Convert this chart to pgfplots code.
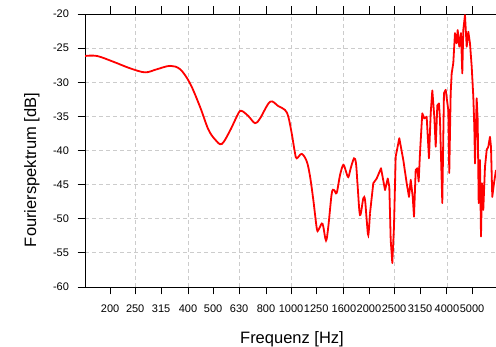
\documentclass[border=0pt]{standalone}
\usepackage{pgfplots}
\pgfplotsset{compat=1.18}
\usepackage{fontspec}
\setmainfont{Liberation Sans}
\begin{document}
\begin{tikzpicture}
\begin{axis}[
  scale only axis, width=411pt, height=273pt,
  xmode=log, xmin=160, xmax=6190, ymin=-60, ymax=-20,
  axis x line*=box, axis y line*=left,
  axis line style={line width=0.9pt, black},
  xtick={200,250,315,400,500,630,800,1000,1250,1600,2000,2500,3150,4000,5000},
  xticklabels={200,250,315,400,500,630,800,1000,1250,1600,2000,2500,3150,4000,5000},
  xminorticks=false,
  ytick={-60,-55,-50,-45,-40,-35,-30,-25,-20},
  yticklabels={-60,-55,-50,-45,-40,-35,-30,-25,-20},
  tick align=outside, major tick length=7.5pt,
  tick style={line width=0.9pt, black},
  ymajorgrids,
  major grid style={line width=0.8pt, color=black!20, dash pattern=on 4pt off 3pt},
  extra x ticks={250,400,630,1000,1600,2500,4000},
  extra x tick labels={},
  extra x tick style={grid=major, major tick length=0pt},
  ticklabel style={font=\fontsize{11}{12}\selectfont},
  xticklabel style={yshift=-7pt},
  yticklabel style={xshift=-5pt},
  xlabel={Frequenz [Hz]}, ylabel={Fourierspektrum [dB]},
  every axis x label/.style={at={(axis description cs:0.5036,-0.207)}, anchor=base, font=\fontsize{16.5}{18}\selectfont},
  every axis y label/.style={at={(axis description cs:-0.1192,0.4286)}, rotate=90, anchor=base, font=\fontsize{16.5}{18}\selectfont},
]
\addplot[red, line width=1.8pt, smooth, tension=0.55] coordinates {
(160,-26.15) (178,-26.15) (206,-27.0) (239,-27.96) (273,-28.55) (303,-28.1)
(341,-27.6) (373,-28.1) (407,-30.15) (445,-33.6) (479,-36.9) (509,-38.4)
(540,-39.05) (581,-37.1) (626,-34.55) (645,-34.2) (684,-34.95) (726,-36.0)
(759,-35.3) (830,-32.85) (893,-33.5) (948,-34.07) (976,-35.05) (1006,-37.5)
(1036,-40.4) (1052,-41.15) (1100,-40.5) (1150,-41.6) (1184,-43.8) (1219,-47.25)
(1257,-51.4) (1275,-51.65) (1314,-50.7) (1332,-51.15) (1365,-53.2) (1393,-51.15)
(1436,-46.3) (1466,-45.8) (1501,-46.2) (1546,-43.6) (1592,-42.1) (1631,-43.1)
(1664,-43.9) (1700,-42.6) (1751,-41.15) (1782,-41.9) (1809,-45.3) (1847,-49.45)
(1902,-47.0) (1931,-47.25) (1960,-50.2) (1988,-52.4) (2018,-49.2)
};
\addplot[red, line width=1.8pt, line join=round] coordinates {
(2018,-49.2) (2078,-44.8) (2142,-44.1) (2226,-42.6) (2307,-45.8) (2363,-44.1)
(2396,-45.3) (2426,-53.1) (2461,-56.5) (2498,-51.15) (2536,-40.9) (2619,-38.2)
(2714,-41.4) (2797,-44.8) (2855,-46.8) (2899,-44.3) (2951,-46.8) (2985,-49.7)
(3030,-42.85) (3073,-42.6) (3112,-44.55) (3148,-40.4) (3213,-34.55) (3270,-35.3)
(3341,-35.05) (3410,-41.15) (3463,-34.55) (3513,-31.2) (3576,-35.05) (3621,-39.45)
(3673,-33.4) (3728,-33.1) (3761,-35.5) (3839,-47.7) (3897,-31.6) (3957,-31.1)
(4049,-34.1) (4085,-43.3) (4136,-31.6) (4173,-28.7) (4233,-27.2) (4297,-22.8)
(4363,-24.3) (4402,-22.35) (4465,-24.8) (4533,-22.8) (4586,-28.7) (4627,-22.35)
(4697,-20.15) (4769,-24.8) (4838,-22.6) (4911,-24.3) (4986,-27.7) (5058,-32.1)
(5103,-36.5) (5135,-41.9) (5212,-32.35) (5259,-35.5) (5306,-47.7) (5367,-41.4)
(5416,-52.6) (5465,-44.8) (5528,-48.7) (5612,-42.4) (5698,-39.9) (5779,-39.45)
(5867,-38.0) (5920,-39.45) (5988,-46.8) (6080,-44.8) (6189,-42.85)
};
\end{axis}
\pgfresetboundingbox
\path (-85pt,-60pt) rectangle (411pt,287pt);
\end{tikzpicture}
\end{document}
